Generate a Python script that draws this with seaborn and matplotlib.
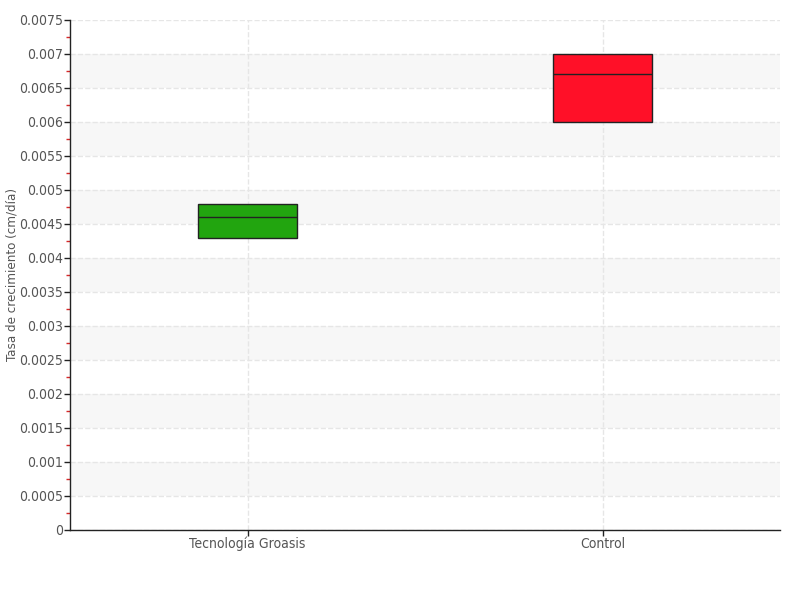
import numpy as np
import pandas as pd
import matplotlib
matplotlib.use("Agg")
import matplotlib.pyplot as plt
import seaborn as sns

# grupos y valores de cada caja (q1, mediana, q3; sin bigotes)
groups = ["Tecnología Groasis", "Control"]
q1 = [0.0043, 0.0060]
median = [0.0046, 0.0067]
q3 = [0.0048, 0.0070]
colors = ["#22a50f", "#ff1028"]


def build_df():
    rows = []
    for g, a, m, b in zip(groups, q1, median, q3):
        # cinco puntos para que los cuartiles coincidan con los valores leidos
        for v in [a, a, m, b, b]:
            rows.append({"grupo": g, "tasa": v})
    return pd.DataFrame(rows)


def main():
    df = build_df()
    sns.set_style("white")
    plt.rcParams["font.family"] = ["DejaVu Sans"]
    plt.rcParams["font.stretch"] = "condensed"

    fig = plt.figure(figsize=(8, 6), dpi=100)
    ax = fig.add_axes([0.0875, 0.1167, 0.8875, 0.85])

    # bandas alternas de fondo
    for lo in np.arange(0.0005, 0.0075, 0.001):
        ax.axhspan(lo, lo + 0.0005, color="#f7f7f7", zorder=-2, lw=0)

    sns.boxplot(data=df, x="grupo", y="tasa", hue="grupo", palette=colors,
                saturation=1, width=0.28, whis=0, showfliers=False,
                showcaps=False, linecolor="#222222", linewidth=1, ax=ax,
                legend=False)

    ax.set_ylim(0, 0.0075)
    ax.set_xlim(-0.5, 1.5)
    yt = np.arange(0, 0.00751, 0.0005)
    ax.set_yticks(yt)
    ax.set_yticklabels(["0" if v == 0 else f"{v:.4f}".rstrip("0") for v in yt])
    ax.set_yticks(np.arange(0.00025, 0.0075, 0.0005), minor=True)
    ax.tick_params(left=True, bottom=True, which="both")
    ax.tick_params(axis="y", which="minor", length=3, width=1, color="#d62728")
    ax.tick_params(axis="both", which="major", length=4, width=1,
                   color="#222222", labelsize=10, labelcolor="#555555",
                   direction="out", pad=1)

    ax.grid(True, which="major", linestyle="--", color="#e6e6e6", linewidth=1)
    ax.set_axisbelow(True)
    for s in ["top", "right"]:
        ax.spines[s].set_visible(False)
    for s in ["left", "bottom"]:
        ax.spines[s].set_color("#222222")
        ax.spines[s].set_linewidth(1)
        ax.spines[s].set_zorder(5)

    ax.set_xlabel("")
    ax.set_ylabel("Tasa de crecimiento (cm/día)", fontsize=9.5, color="#555555")
    ax.yaxis.set_label_coords(-0.073, 0.5)

    fig.savefig("out.png", dpi=100)


if __name__ == "__main__":
    main()
